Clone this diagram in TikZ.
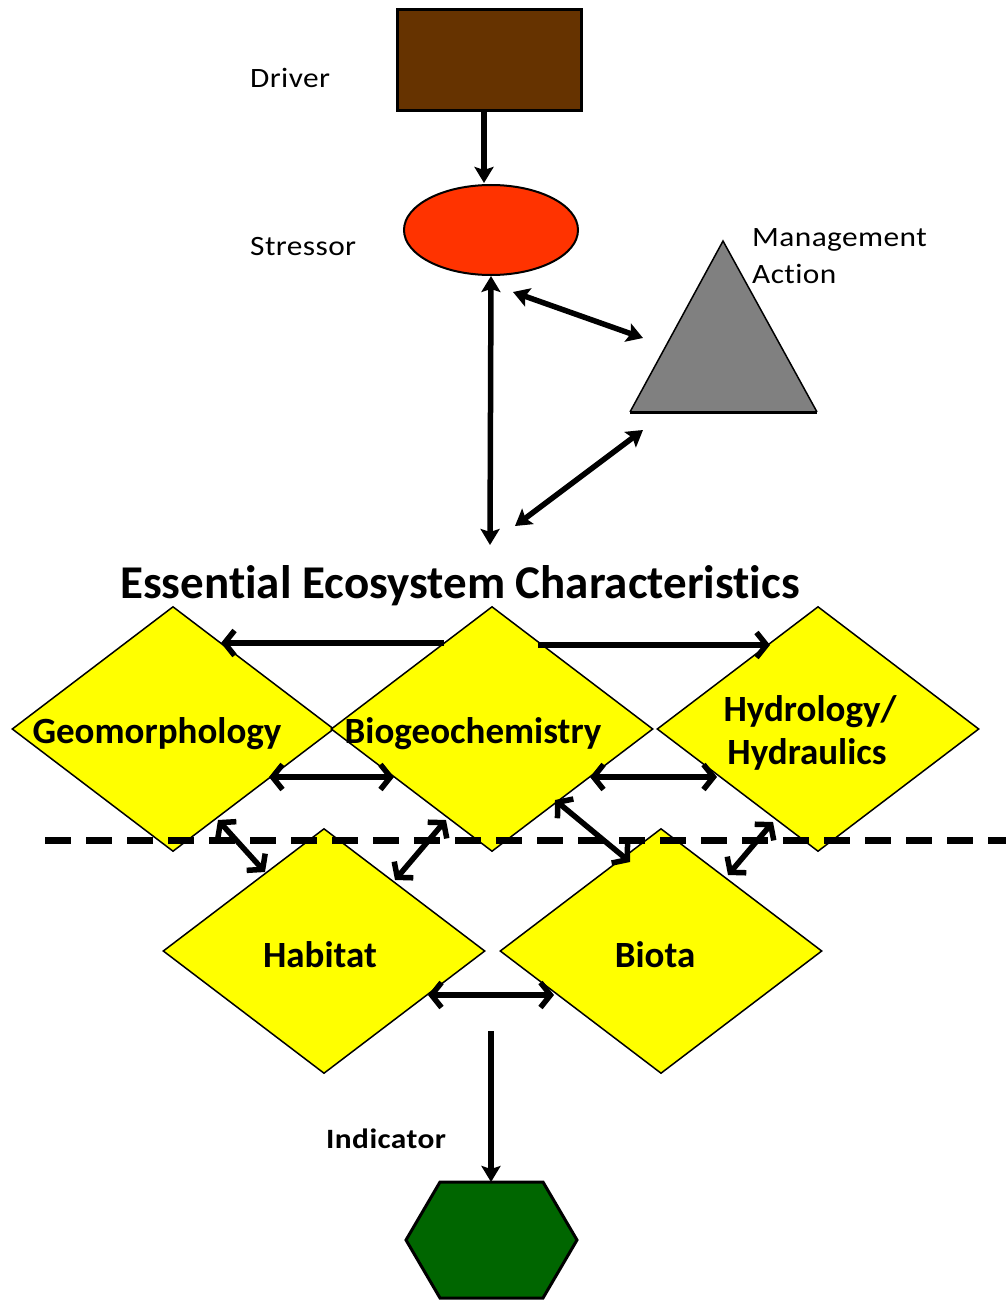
\documentclass[tikz,border=0pt]{standalone}
\usepackage{fontspec}
\setmainfont[Ligatures={NoCommon}]{Carlito}
\newfontfamily\lblfont[FakeStretch=1.12,LetterSpace=1.5,Ligatures={NoCommon}]{Carlito}
\usetikzlibrary{shapes.geometric,arrows.meta}
\definecolor{driverbrown}{RGB}{102,51,0}
\definecolor{stressred}{RGB}{255,51,0}
\definecolor{mgmtgray}{RGB}{128,128,128}
\definecolor{indgreen}{RGB}{0,102,0}
\definecolor{eecyellow}{RGB}{255,255,0}
\begin{document}
\begin{tikzpicture}[x=1pt,y=-1pt,
  dia/.style={diamond,draw=black,line width=1.5pt,fill=eecyellow,minimum width=322pt,minimum height=245pt,inner sep=0pt},
  fhead/.tip={Stealth[length=16pt,width=19pt,inset=3pt]},
  ohead/.tip={Straight Barb[length=10pt,width=25pt,line width=5.5pt]},
  farr/.style={line width=5.5pt,-fhead},
  fdarr/.style={line width=5.5pt,fhead-fhead},
  odarr/.style={line width=5.5pt,ohead-ohead},
  oarr/.style={line width=5.5pt,-ohead},
  lbl/.style={font=\lblfont\fontsize{28}{34}\selectfont,anchor=base west,inner sep=0pt},
  dtxt/.style={font=\fontsize{37}{43}\selectfont\bfseries,anchor=base,inner sep=0pt}
]
\useasboundingbox (0,0) rectangle (1006,1300);

% top part
\node[draw=black,line width=3pt,fill=driverbrown,minimum width=184pt,minimum height=101pt,inner sep=0pt] (driver) at (489,60.5) {};
\node[ellipse,draw=black,line width=2pt,fill=stressred,minimum width=174pt,minimum height=90pt,inner sep=0pt] (stress) at (491,230) {};
\draw[farr] ([xshift=-5pt]driver.south) -- ([xshift=-5pt,yshift=1pt]driver.south |- stress.north);

\node[lbl] (drvlbl) at (250,88) {Driver};
\node[lbl] (strlbl) at (250,255) {Stressor};
\node[lbl] (mgmtlbl1) at (752,246) {Management};
\node[lbl] (mgmtlbl2) at (752,283) {Action};

\coordinate (tA) at (723,241);
\coordinate (tB) at (630,412);
\coordinate (tC) at (817,412);
\fill[mgmtgray] (tA) -- (tB) -- (tC) -- cycle;
\draw[line width=1.5pt,line join=miter] (tC) -- (tA) -- (tB);
\draw[line width=3pt] (tB) -- (tC);

\coordinate (s1) at (513,292);
\coordinate (m1) at (643,338);
\coordinate (s2) at (515,526);
\coordinate (m2) at (643,430);
\coordinate (eec) at (490,545);
\draw[fdarr] (stress.south) -- (eec);
\draw[fdarr] (s1) -- (m1);
\draw[fdarr] (s2) -- (m2);

\node[font=\fontsize{47}{52}\selectfont\bfseries,anchor=base,inner sep=0pt] (title) at (460,598) {Essential Ecosystem Characteristics};

% diamonds
\node[dia] (geo) at (173,729) {};
\node[dia] (bio) at (492,729) {};
\node[dia] (hyd) at (818,729) {};
\node[dia] (hab) at (324,951) {};
\node[dia] (bta) at (661,951) {};

\node[dtxt] (geot) at (157,743) {Geomorphology};
\node[dtxt] (biot) at (473,743) {Biogeochemistry};
\node[dtxt] (hydt1) at (810,721) {Hydrology/};
\node[dtxt] (hydt2) at (807,764) {Hydraulics};
\node[dtxt] (habt) at (320,967) {Habitat};
\node[dtxt] (btat) at (655,967) {Biota};

% connectors among diamonds
\coordinate (bL) at (444,643);
\coordinate (gR) at (221,643);
\coordinate (bR) at (538,645);
\coordinate (hL) at (770,645);
\draw[oarr] (bL) -- (gR);
\draw[oarr] (bR) -- (hL);

\coordinate (g1) at (269,777);
\coordinate (b1) at (394,777);
\coordinate (b2) at (590,777);
\coordinate (h2) at (717,777);
\draw[odarr] (g1) -- (b1);
\draw[odarr] (b2) -- (h2);

\coordinate (g3) at (218,820);
\coordinate (a3) at (265,872);
\coordinate (b4) at (446,820);
\coordinate (a4) at (395,880);
\coordinate (b5) at (555,800);
\coordinate (t5) at (630,862);
\coordinate (h6) at (773,822);
\coordinate (t6) at (728,875);
\draw[odarr] (g3) -- (a3);
\draw[odarr] (b4) -- (a4);
\draw[odarr] (b5) -- (t5);
\draw[odarr] (h6) -- (t6);

\coordinate (a7) at (428,995);
\coordinate (t7) at (554,995);
\draw[odarr] (a7) -- (t7);

% dashed divider
\coordinate (dl) at (45,840);
\coordinate (dr) at (1006,840);
\draw[line width=7pt,dash pattern=on 26pt off 15pt] (dl) -- (dr);

% indicator
\node[lbl,font=\lblfont\fontsize{28}{34}\selectfont\bfseries] (indlbl) at (326,1148) {Indicator};
\coordinate (hx1) at (440,1182);
\coordinate (hx2) at (543,1182);
\coordinate (hx3) at (577,1240);
\coordinate (hx4) at (543,1298);
\coordinate (hx5) at (440,1298);
\coordinate (hx6) at (406,1240);
\draw[line width=3pt,fill=indgreen,line join=miter] (hx1) -- (hx2) -- (hx3) -- (hx4) -- (hx5) -- (hx6) -- cycle;
\coordinate (indtop) at (491,1031);
\coordinate (hextop) at (491,1182);
\draw[farr] (indtop) -- (hextop);
\end{tikzpicture}
\end{document}
